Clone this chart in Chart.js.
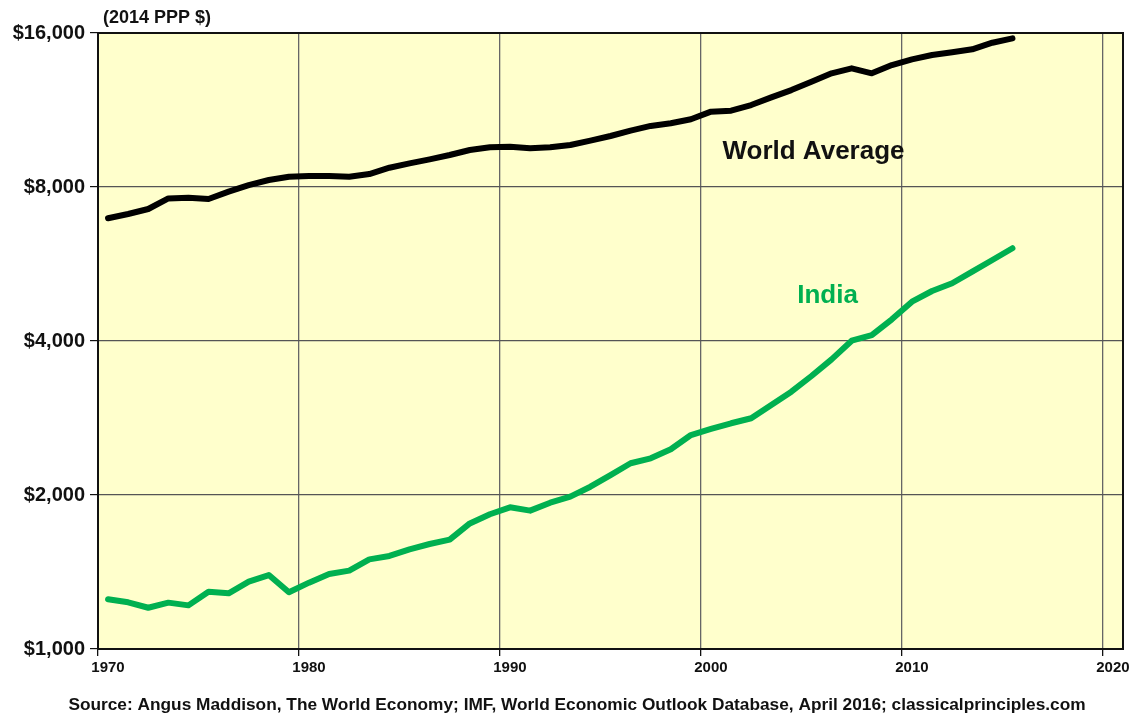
<!DOCTYPE html>
<html>
<head>
<meta charset="utf-8">
<script src="https://cdn.jsdelivr.net/npm/chart.js@4.4.1/dist/chart.umd.min.js"></script>
<style>
  html, body { margin: 0; padding: 0; background: #fff; }
  #wrap { width: 1138px; height: 719px; }
</style>
</head>
<body>
<div id="wrap"><canvas id="gdpChart"></canvas></div>
<script>
const years = [1970, 1971, 1972, 1973, 1974, 1975, 1976, 1977, 1978, 1979,
               1980, 1981, 1982, 1983, 1984, 1985, 1986, 1987, 1988, 1989,
               1990, 1991, 1992, 1993, 1994, 1995, 1996, 1997, 1998, 1999,
               2000, 2001, 2002, 2003, 2004, 2005, 2006, 2007, 2008, 2009,
               2010, 2011, 2012, 2013, 2014, 2015];

const worldAvg = [6950, 7085, 7245, 7600, 7620, 7580, 7835, 8070, 8255, 8380,
                  8405, 8410, 8380, 8480, 8725, 8900, 9060, 9240, 9450, 9565,
                  9590, 9520, 9565, 9665, 9855, 10065, 10310, 10530, 10660, 10850,
                  11230, 11280, 11570, 11975, 12375, 12850, 13345, 13650, 13345, 13850,
                  14210, 14490, 14670, 14870, 15315, 15620];

const india = [1251, 1234, 1204, 1232, 1217, 1294, 1285, 1354, 1395, 1291,
               1348, 1402, 1423, 1497, 1520, 1566, 1604, 1636, 1760, 1834,
               1892, 1864, 1932, 1985, 2076, 2188, 2307, 2359, 2457, 2620,
               2692, 2762, 2825, 2999, 3184, 3417, 3683, 4005, 4109, 4411,
               4774, 5010, 5187, 5465, 5760, 6072];

const yTicks = [1000, 2000, 4000, 8000, 16000];
const xTicks = [1970, 1980, 1990, 2000, 2010, 2020];

// series labels placed in data units
const labelWorld = { text: 'World Average', year: 2005.6, value: 9365 };
const labelIndia = { text: 'India', year: 2006.3, value: 4898 };

const FONT = '"Liberation Sans", Arial, sans-serif';

// annual values plotted at mid-year
const toPoints = arr => arr.map((v, i) => ({ x: years[i] + 0.5, y: v }));

const decor = {
    id: 'decor',
    beforeDraw(chart) {
        const { ctx, chartArea: a } = chart;
        ctx.save();
        ctx.fillStyle = '#FFFFCC';
        ctx.fillRect(a.left, a.top, a.right - a.left, a.bottom - a.top);
        ctx.restore();
    },
    afterDraw(chart) {
        const { ctx, chartArea: a, scales } = chart;
        ctx.save();
        ctx.strokeStyle = '#111';
        ctx.lineWidth = 2;
        ctx.strokeRect(a.left, a.top, a.right - a.left, a.bottom - a.top);

        ctx.textBaseline = 'middle';
        ctx.font = 'bold 18px ' + FONT;
        ctx.fillStyle = '#111';
        ctx.textAlign = 'left';
        ctx.fillText('(2014 PPP $)', a.left + 5, 18);
        ctx.font = 'bold 17.3px ' + FONT;
        ctx.textAlign = 'center';
        ctx.fillText('Source: Angus Maddison, The World Economy; IMF, World Economic Outlook Database, April 2016; classicalprinciples.com', 577, 705);

        ctx.font = 'bold 26px ' + FONT;
        ctx.fillStyle = '#111';
        ctx.fillText(labelWorld.text, scales.x.getPixelForValue(labelWorld.year), scales.y.getPixelForValue(labelWorld.value));
        ctx.fillStyle = '#00B050';
        ctx.fillText(labelIndia.text, scales.x.getPixelForValue(labelIndia.year), scales.y.getPixelForValue(labelIndia.value));
        ctx.restore();
    }
};

new Chart(document.getElementById('gdpChart'), {
    type: 'line',
    data: {
        datasets: [{
            label: 'World Average',
            data: toPoints(worldAvg),
            borderColor: '#000',
            borderWidth: 6,
            pointRadius: 0,
            tension: 0,
            borderJoinStyle: 'round',
            borderCapStyle: 'round'
        }, {
            label: 'India',
            data: toPoints(india),
            borderColor: '#00B050',
            borderWidth: 6,
            pointRadius: 0,
            tension: 0,
            borderJoinStyle: 'round',
            borderCapStyle: 'round'
        }]
    },
    options: {
        responsive: true,
        maintainAspectRatio: false,
        animation: false,
        layout: { padding: { top: 33, right: 15, left: 0, bottom: 0 } },
        plugins: {
            legend: { display: false },
            tooltip: { enabled: false }
        },
        scales: {
            x: {
                type: 'linear',
                min: 1970,
                max: 2021,
                afterBuildTicks: s => { s.ticks = xTicks.map(v => ({ value: v })); },
                afterFit: s => { s.height = 70; },
                grid: { color: '#666', lineWidth: 1.3, tickLength: 7, tickColor: '#111' },
                border: { display: false },
                ticks: {
                    color: '#111',
                    padding: 3,
                    maxRotation: 0,
                    labelOffset: 10,
                    font: { family: FONT, size: 15, weight: 'bold' },
                    callback: v => String(v)
                }
            },
            y: {
                type: 'logarithmic',
                min: 1000,
                max: 16000,
                afterBuildTicks: s => { s.ticks = yTicks.map(v => ({ value: v })); },
                afterFit: s => { s.width = 98; },
                grid: { color: '#555', lineWidth: 1.2, tickLength: 8, tickColor: '#111' },
                border: { display: false },
                ticks: {
                    color: '#111',
                    padding: 5,
                    font: { family: FONT, size: 20, weight: 'bold' },
                    callback: v => '$' + Number(v).toLocaleString('en-US')
                }
            }
        }
    },
    plugins: [decor]
});
</script>
</body>
</html>
